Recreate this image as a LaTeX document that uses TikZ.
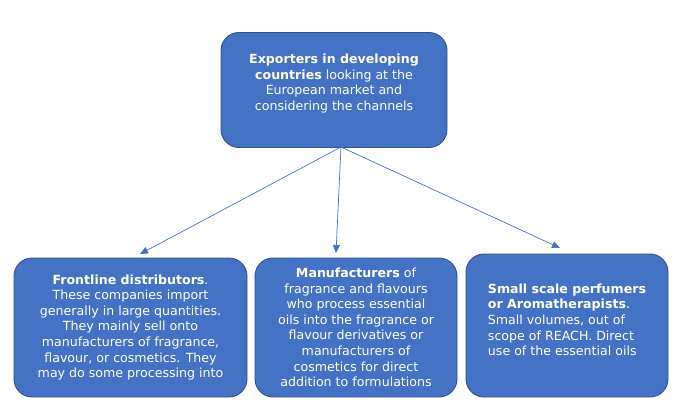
\documentclass[tikz,border=0pt]{standalone}
\usepackage{fontspec}
\setmainfont{DejaVu Sans}
\usepackage{xcolor}
\usetikzlibrary{arrows.meta}
\definecolor{boxblue}{HTML}{4472C4}
\definecolor{boxedge}{HTML}{2F528F}
\tikzset{
  channel/.style={draw=boxedge, line width=0.9pt, fill=boxblue, text=white, rounded corners=18pt,
    align=center, inner sep=0pt, font=\fontsize{12.6}{15.6}\selectfont},
  link/.style={-{Triangle[length=8pt,width=7pt]}, draw=boxblue, line width=0.7pt}
}
\begin{document}
\begin{tikzpicture}[x=1pt, y=-1pt]
        \useasboundingbox (0,0) rectangle (686,412);

        \node (exporters) at (334,90)[channel, minimum width=226pt, minimum height=115pt] {\textbf{Exporters in developing}\\ \textbf{countries} looking at the\\ European market and\\ considering the channels\\ {}};

        \node (frontline) at (130.5,327.5)[channel, minimum width=233pt, minimum height=139pt] {\textbf{Frontline distributors}.\\ These companies import\\ generally in large quantities.\\ They mainly sell onto\\ manufacturers of fragrance,\\ flavour, or cosmetics. They\\ may do some processing into};
        \node (manufacturers) at (356,327.5)[channel, minimum width=202pt, minimum height=139pt] {\textbf{Manufacturers} of\\ fragrance and flavours\\ who process essential\\ oils into the fragrance or\\ flavour derivatives or\\ manufacturers of\\ cosmetics for direct\\ addition to formulations};
        \node (perfumers) at (567,325.5)[channel, align=left, minimum width=202pt, minimum height=143pt] {\textbf{Small scale perfumers}\\ \textbf{or Aromatherapists}.\\ Small volumes, out of\\ scope of REACH. Direct\\ use of the essential oils\\[-4pt] {}};

        \coordinate (src) at (341,147);
        \coordinate (toL) at (140,254);
        \coordinate (toM) at (336,253);
        \coordinate (toR) at (560,248);

        \draw[link] (src) -- (toL);
        \draw[link] (src) -- (toM);
        \draw[link] (src) -- (toR);
    \end{tikzpicture}
\end{document}
